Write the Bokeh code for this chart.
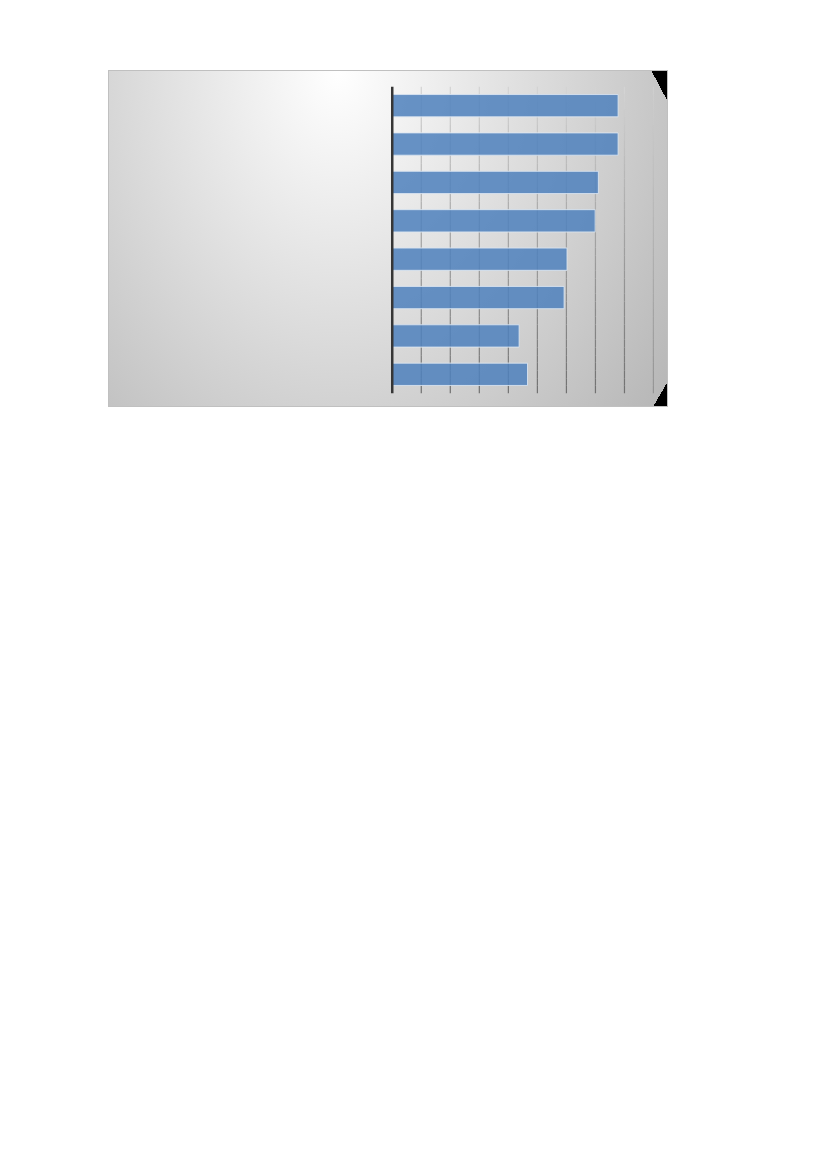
import numpy as np
from bokeh.plotting import figure
from bokeh.models import FactorRange, Range1d, Span, Spacer
from bokeh.layouts import row, column
from bokeh.embed import file_html
from bokeh.resources import INLINE

# ---- data (category labels are not shown in the reference) ----
categories = ["Item 1", "Item 2", "Item 3", "Item 4", "Item 5", "Item 6", "Item 7", "Item 8"]
values = [77.8, 77.8, 71.0, 69.9, 60.2, 59.2, 43.7, 46.6]
x_min = -0.6
x_max = 90
x_step = 10

p = figure(
    width=560, height=337,
    y_range=FactorRange(factors=categories[::-1]),
    x_range=Range1d(x_min, x_max),
    x_axis_location=None, y_axis_location=None,
    output_backend="svg", toolbar_location=None,
    min_border_left=282, min_border_right=15,
    min_border_top=16, min_border_bottom=14,
)
p.background_fill_alpha = 0
p.border_fill_alpha = 0
p.outline_line_color = None
p.grid.visible = False

p.styles = {
    "background": (
        "linear-gradient(to bottom left, #000000 50%, rgba(0,0,0,0) 50%) right top / 17px 32px no-repeat, "
        "linear-gradient(to top left, #000000 50%, rgba(0,0,0,0) 50%) right bottom / 15px 26px no-repeat, "
        "radial-gradient(ellipse 429px 560px at 230px 0px, #ffffff 0%, #b4b4b4 100%)"
    ),
    "box-shadow": "inset 0 0 0 1px #c0c0c0",
}

# vertical gridlines, shaded light at top to darker at bottom
n_bands = 40
ticks = np.arange(x_step, x_max + 1e-9, x_step)
n_cat = len(categories)
edges = np.linspace(n_cat, 0, n_bands + 1)
gx, gy0, gy1, gc = [], [], [], []
for b in range(n_bands):
    t = (b + 0.5) / n_bands
    g = int(round(212 - 100 * t))
    col = "#%02x%02x%02x" % (g, g, g)
    for tk in ticks:
        gx.append(float(tk))
        gy0.append(float(edges[b]))
        gy1.append(float(edges[b + 1]))
        gc.append(col)
p.segment(x0=gx, x1=gx, y0=gy0, y1=gy1, line_color=gc, line_width=1.2, line_cap="butt")

p.hbar(y=categories, left=0, right=values, height=0.58,
       fill_color="#4f81bd", fill_alpha=0.86,
       line_color="#dce6f2", line_alpha=0.85, line_width=1)

p.add_layout(Span(location=0, dimension="height", line_color="#363636", line_width=2.5))

layout = column(Spacer(height=70), row(Spacer(width=108), p))

open("out.html", "w").write(file_html(layout, INLINE))
